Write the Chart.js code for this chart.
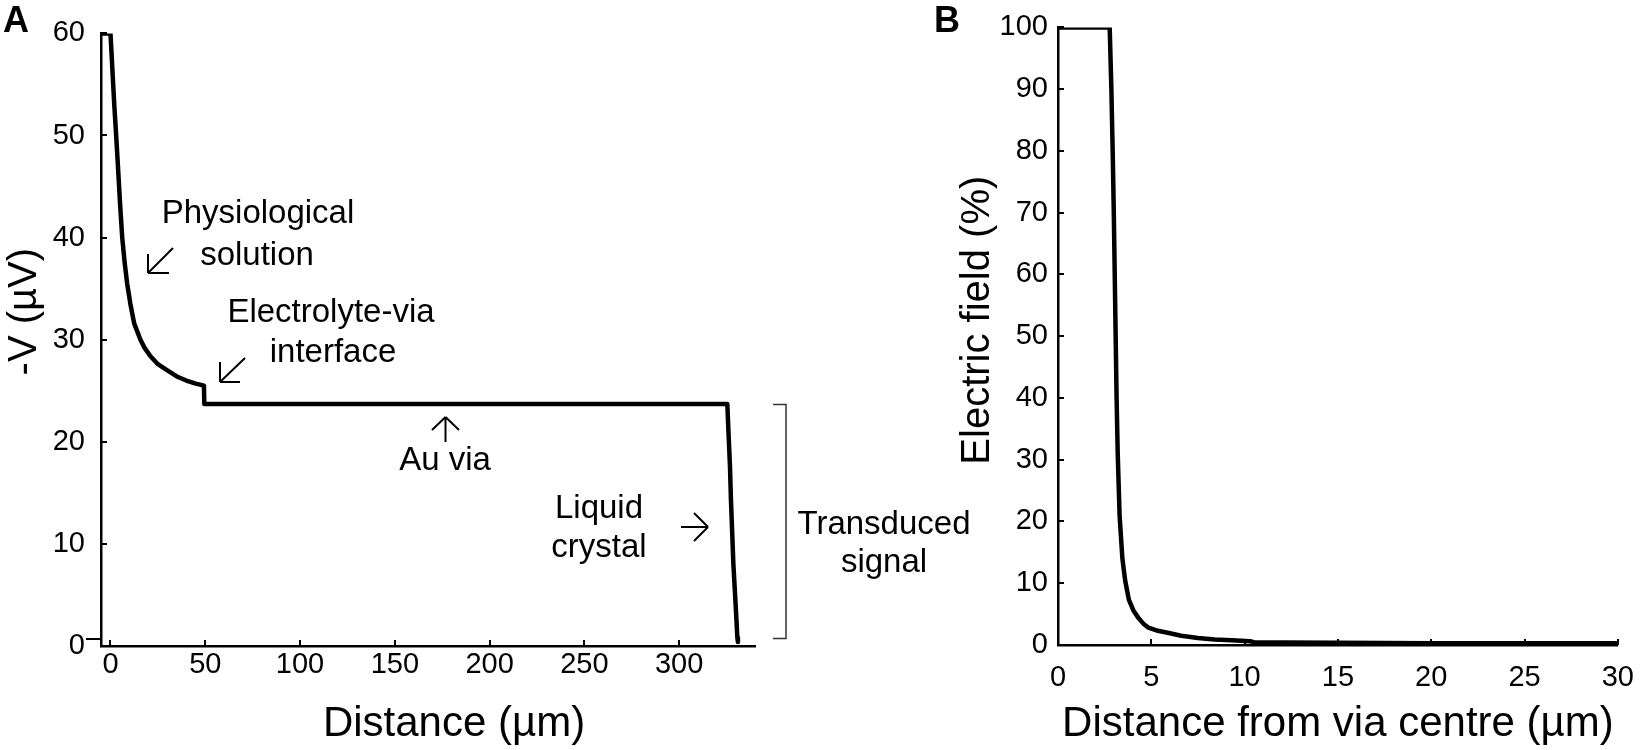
<!DOCTYPE html>
<html><head><meta charset="utf-8">
<script src="https://cdn.jsdelivr.net/npm/chart.js@4.4.1/dist/chart.umd.min.js"></script>
<style>
html,body{margin:0;padding:0;background:#fff;width:1650px;height:750px;overflow:hidden;position:relative;}
#wrapA{position:absolute;left:0;top:0;width:940px;height:750px;}
#wrapB{position:absolute;left:930px;top:0;width:720px;height:750px;}
.note{position:absolute;font-family:'Liberation Sans',Arial,sans-serif;font-size:33px;line-height:33px;color:#000;white-space:nowrap;text-align:center;width:300px;}
.panel{position:absolute;font-family:'Liberation Sans',Arial,sans-serif;font-weight:bold;font-size:36px;line-height:36px;color:#000;}
</style></head>
<body>
<div id="wrapA"><canvas id="cA" width="940" height="750"></canvas></div>
<div id="wrapB"><canvas id="cB" width="720" height="750"></canvas></div>
<div class="panel" style="left:3px;top:2px;">A</div>
<div class="panel" style="left:934px;top:2px;">B</div>
<div class="note" style="left:108px;top:195px;">Physiological</div>
<div class="note" style="left:107px;top:237px;">solution</div>
<div class="note" style="left:181px;top:294px;">Electrolyte-via</div>
<div class="note" style="left:183px;top:334px;">interface</div>
<div class="note" style="left:295px;top:442px;">Au via</div>
<div class="note" style="left:449px;top:490px;">Liquid</div>
<div class="note" style="left:449px;top:529px;">crystal</div>
<div class="note" style="left:734px;top:506px;">Transduced</div>
<div class="note" style="left:734px;top:544px;">signal</div>
<script>
// ---- Panel A data: potential along the path ----
const distA = [-5, 0, 1, 2, 3, 4, 5, 6.2, 7.5, 8.8, 10.5, 12.5, 15.8, 18, 21, 25, 30, 35, 40, 45, 49.3, 49.5, 325.4, 326, 326.8, 327.3, 328.6, 329.8, 330.7, 331];
const voltA = [60, 60, 56.5, 53, 50, 46.8, 43.5, 40, 37.5, 35.5, 33.5, 31.6, 30, 29.2, 28.4, 27.6, 27, 26.4, 26, 25.7, 25.5, 23.7, 23.7, 21, 17.6, 14.4, 8, 4, 0.8, 0.4];
const ticksAx = [0, 50, 100, 150, 200, 250, 300];
const ticksAy = [0, 10, 20, 30, 40, 50, 60];

// ---- Panel B data: electric field vs distance from via centre ----
const distB = [0, 2.77, 2.86, 2.93, 2.99, 3.04, 3.09, 3.14, 3.2, 3.3, 3.45, 3.6, 3.8, 4.04, 4.3, 4.56, 4.85, 5.35, 6.0, 6.6, 7.5, 8.4, 9.3, 10.3, 10.5, 12, 15, 20, 25, 30];
const fieldB = [100, 100, 90, 80, 70, 60, 50, 40, 31, 21, 14, 10.4, 7.3, 5.6, 4.4, 3.5, 2.8, 2.3, 1.9, 1.5, 1.15, 0.9, 0.75, 0.6, 0.45, 0.4, 0.35, 0.3, 0.28, 0.27];
const ticksBx = [0, 5, 10, 15, 20, 25, 30];
const ticksBy = [0, 10, 20, 30, 40, 50, 60, 70, 80, 90, 100];

// bracket for transduced signal (in data units of panel A)
const bracketA = [23.7, 0.8];

Chart.defaults.font.family = "'Liberation Sans', Arial, sans-serif";
Chart.defaults.color = '#000';

function tickMarks(cfg) {
  return {
    id: 'tickMarks',
    beforeDatasetsDraw(chart) {
      const ctx = chart.ctx, xs = chart.scales.x, ys = chart.scales.y;
      ctx.save();
      ctx.strokeStyle = '#000';
      ctx.lineWidth = cfg.width;
      ctx.beginPath();
      xs.ticks.forEach(t => {
        if (t.value === xs.min) return;
        const p = Math.round(xs.getPixelForValue(t.value));
        ctx.moveTo(p, xs.top); ctx.lineTo(p, xs.top - cfg.len);
      });
      ys.ticks.forEach(t => {
        const p = Math.round(ys.getPixelForValue(t.value));
        if (t.value === ys.min) {
          if (cfg.zeroOut) { ctx.moveTo(ys.right - cfg.zeroOut.len, p + cfg.zeroOut.dy); ctx.lineTo(ys.right, p + cfg.zeroOut.dy); }
          return;
        }
        ctx.moveTo(ys.right, p); ctx.lineTo(ys.right + cfg.len, p);
      });
      ctx.stroke();
      ctx.restore();
    }
  };
}

function titleShift(shifts) {
  return {
    id: 'titleShift',
    beforeDraw(chart) {
      Object.keys(shifts).forEach(id => {
        const s = chart.scales[id];
        if (!s || s.__shifted) return;
        const dx = shifts[id][0], dy = shifts[id][1];
        const orig = s.drawTitle;
        s.drawTitle = function () {
          const l = this.left, r = this.right, t = this.top, b = this.bottom;
          this.left += dx; this.right += dx; this.top += dy; this.bottom += dy;
          orig.call(this);
          this.left = l; this.right = r; this.top = t; this.bottom = b;
        };
        s.__shifted = true;
      });
    }
  };
}

const arrowsA = [
  [[173, 248], [148, 273], [[169, 273], [148, 254]]],
  [[245, 358], [220, 382], [[240, 382], [220, 362]]],
  [[445.5, 442], [445.5, 417], [[432, 430], [459, 430]]],
  [[681, 527], [708, 527], [[694, 513], [694, 541]]]
];

const annotA = {
  id: 'annotA',
  afterDatasetsDraw(chart) {
    const ctx = chart.ctx, ys = chart.scales.y;
    ctx.save();
    ctx.strokeStyle = '#000';
    ctx.lineWidth = 2;
    ctx.lineCap = 'butt';
    arrowsA.forEach(([tail, head, arms]) => {
      ctx.beginPath();
      ctx.moveTo(tail[0], tail[1]); ctx.lineTo(head[0], head[1]);
      arms.forEach(a => { ctx.moveTo(head[0], head[1]); ctx.lineTo(a[0], a[1]); });
      ctx.stroke();
    });
    // bracket
    const yt = Math.round(ys.getPixelForValue(bracketA[0])) + 0.5;
    const yb = Math.round(ys.getPixelForValue(bracketA[1])) + 0.5;
    ctx.strokeStyle = '#333';
    ctx.lineWidth = 1.5;
    ctx.beginPath();
    ctx.moveTo(773, yt); ctx.lineTo(786, yt); ctx.lineTo(786, yb); ctx.lineTo(773, yb);
    ctx.stroke();
    ctx.restore();
  }
};

new Chart(document.getElementById('cA'), {
  type: 'line',
  data: {
    datasets: [{
      label: '-V (µV)',
      data: distA.map((x, i) => ({ x: x, y: voltA[i] })),
      borderColor: '#000', borderWidth: 4.5, pointRadius: 0, fill: false, tension: 0,
      borderCapStyle: 'round', borderJoinStyle: 'round'
    }]
  },
  options: {
    responsive: false, animation: false, devicePixelRatio: 1,
    layout: { padding: { left: 0, top: 22, right: 185, bottom: 0 } },
    plugins: { legend: { display: false }, tooltip: { enabled: false } },
    scales: {
      x: {
        type: 'linear', min: -5, max: 340,
        afterBuildTicks: s => { s.ticks = ticksAx.map(v => ({ value: v })); },
        afterFit: s => { s.height = 104; },
        grid: { display: false, drawTicks: false },
        border: { display: true, color: '#000', width: 2.5 },
        ticks: { color: '#000', font: { size: 29 }, padding: 2, maxRotation: 0, autoSkip: false },
        title: { display: true, text: 'Distance (µm)', color: '#000', font: { size: 42 }, padding: { top: 0, bottom: 0 } }
      },
      y: {
        type: 'linear', min: 0, max: 60,
        afterBuildTicks: s => { s.ticks = ticksAy.map(v => ({ value: v })); },
        afterFit: s => { s.width = 101; },
        grid: { display: false, drawTicks: false },
        border: { display: true, color: '#000', width: 2.5 },
        ticks: { color: '#000', font: { size: 29 }, padding: 16, autoSkip: false },
        title: { display: true, text: '-V (µV)', color: '#000', font: { size: 40 }, padding: { top: 1, bottom: 0 } }
      }
    }
  },
  plugins: [tickMarks({ width: 2, len: 6, zeroOut: { len: 15, dy: -7 } }), titleShift({ x: [26, 0], y: [0, -28] }), annotA]
});

new Chart(document.getElementById('cB'), {
  type: 'line',
  data: {
    datasets: [{
      label: 'Electric field (%)',
      data: distB.map((x, i) => ({ x: x, y: fieldB[i] })),
      borderColor: '#000', borderWidth: 4.5, pointRadius: 0, fill: false, tension: 0,
      borderCapStyle: 'round', borderJoinStyle: 'round'
    }]
  },
  options: {
    responsive: false, animation: false, devicePixelRatio: 1,
    layout: { padding: { left: 0, top: 23, right: 22, bottom: 0 } },
    plugins: { legend: { display: false }, tooltip: { enabled: false } },
    scales: {
      x: {
        type: 'linear', min: 0, max: 30,
        afterBuildTicks: s => { s.ticks = ticksBx.map(v => ({ value: v })); },
        afterFit: s => { s.height = 105; },
        grid: { display: false, drawTicks: false },
        border: { display: true, color: '#000', width: 2.5 },
        ticks: { color: '#000', font: { size: 29 }, padding: 16, maxRotation: 0, autoSkip: false },
        title: { display: true, text: 'Distance from via centre (µm)', color: '#000', font: { size: 42 }, padding: { top: 0, bottom: 0 } }
      },
      y: {
        type: 'linear', min: 0, max: 100,
        afterBuildTicks: s => { s.ticks = ticksBy.map(v => ({ value: v })); },
        afterFit: s => { s.width = 128; },
        grid: { display: false, drawTicks: false },
        border: { display: true, color: '#000', width: 2.5 },
        ticks: { color: '#000', font: { size: 29 }, padding: 10, autoSkip: false },
        title: { display: true, text: 'Electric field (%)', color: '#000', font: { size: 40 }, padding: { top: 24, bottom: 0 } }
      }
    }
  },
  plugins: [tickMarks({ width: 2, len: 6 }), titleShift({ y: [0, -16] })]
});
</script>
</body></html>
